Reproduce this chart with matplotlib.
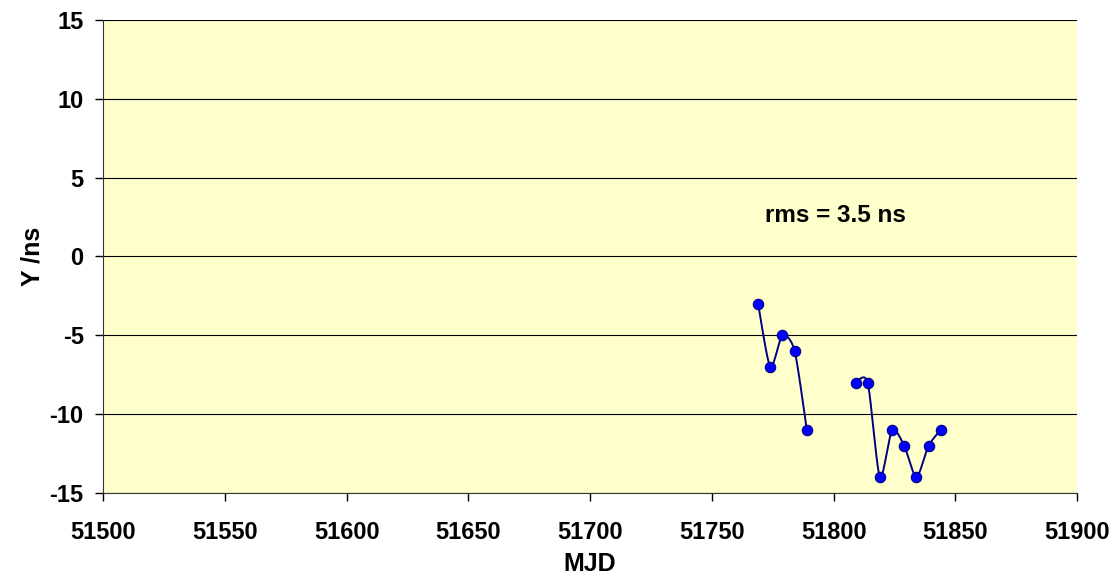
import numpy as np
import matplotlib.pyplot as plt

plt.rcParams['font.family'] = ['Liberation Sans', 'DejaVu Sans']
plt.rcParams['font.weight'] = 'bold'
plt.rcParams['axes.unicode_minus'] = False

# data (two separate runs)
mjd_a = [51769, 51774, 51779, 51784, 51789]
y_a = [-3, -7, -5, -6, -11]
mjd_b = [51809, 51814, 51819, 51824, 51829, 51834, 51839, 51844]
y_b = [-8, -8, -14, -11, -12, -14, -12, -11]


def smooth(x, y, n=20):
    # catmull-rom like Excel smoothed line
    x = np.asarray(x, float)
    y = np.asarray(y, float)
    px = np.concatenate([[x[0]], x, [x[-1]]])
    py = np.concatenate([[y[0]], y, [y[-1]]])
    xs, ys = [], []
    t = np.linspace(0, 1, n)
    for i in range(1, len(px) - 2):
        p0, p1, p2, p3 = [np.array([px[j], py[j]]) for j in range(i - 1, i + 3)]
        c1 = p1 + (p2 - p0) / 8
        c2 = p2 - (p3 - p1) / 8
        b = ((1 - t) ** 3)[:, None] * p1 + (3 * (1 - t) ** 2 * t)[:, None] * c1 \
            + (3 * (1 - t) * t ** 2)[:, None] * c2 + (t ** 3)[:, None] * p2
        xs.extend(b[:, 0])
        ys.extend(b[:, 1])
    return xs, ys


fig = plt.figure(figsize=(11.15, 5.88), dpi=100)
ax = fig.add_axes([0.0925, 0.1616, 0.8735, 0.8044])
ax.set_facecolor('#FFFFCC')

for xx, yy in [(mjd_a, y_a), (mjd_b, y_b)]:
    sx, sy = smooth(xx, yy)
    ax.plot(sx, sy, color='#000080', lw=1.4, zorder=3)
    ax.plot(xx, yy, 'o', ms=7.5, color='#0000FF', mec='#000080', mew=0.8, zorder=4)

ax.set_xlim(51500, 51900)
ax.set_ylim(-15, 15)
ax.set_xticks(np.arange(51500, 51901, 50))
ax.set_yticks(np.arange(-15, 16, 5))
ax.yaxis.grid(True, color='black', lw=0.8)
ax.set_axisbelow(True)
for s in ['top', 'right']:
    ax.spines[s].set_visible(False)
for s in ['left', 'bottom']:
    ax.spines[s].set_color('#333333')
ax.tick_params(direction='out', length=6, labelsize=17, width=1)
ax.tick_params(axis='x', pad=14)
ax.tick_params(axis='y', pad=8)
for lab in ax.get_xticklabels() + ax.get_yticklabels():
    lab.set_fontweight('bold')

ax.set_xlabel('MJD', fontsize=18, fontweight='bold', labelpad=6)
ax.set_ylabel('Y /ns', fontsize=18, fontweight='bold', labelpad=4)
ax.text(51772, 2.6, 'rms = 3.5 ns', fontsize=17.5, fontweight='bold', va='center')

fig.savefig('out.png', dpi=100)
